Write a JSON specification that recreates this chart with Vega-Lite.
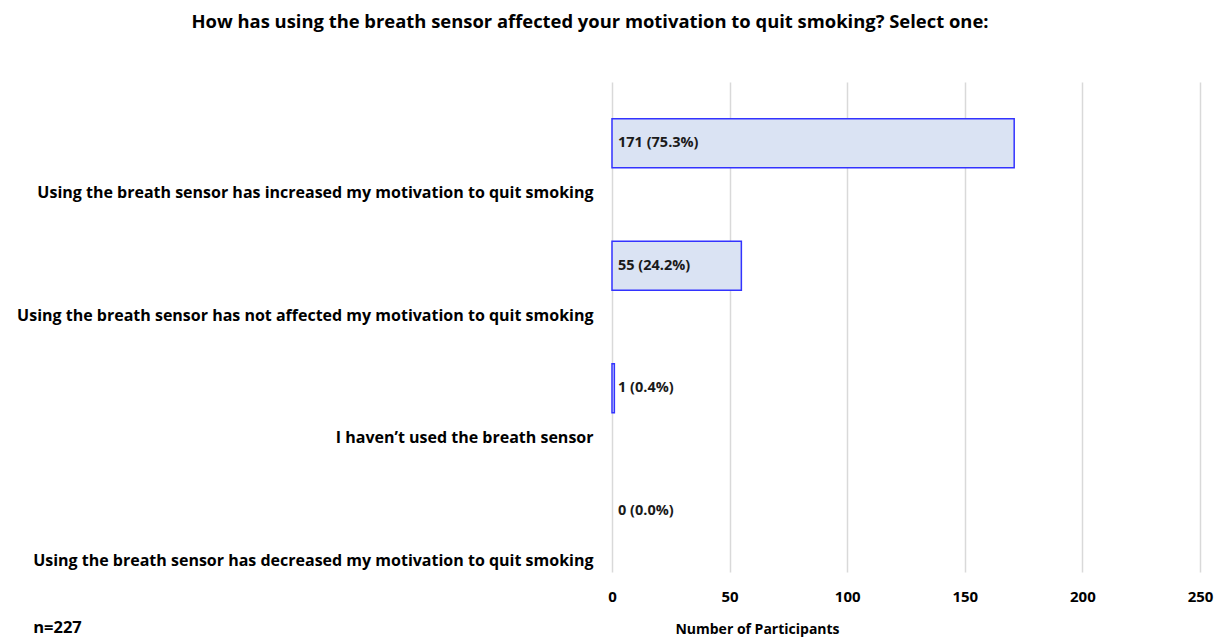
{
  "$schema": "https://vega.github.io/schema/vega-lite/v6.json",
  "width": 588,
  "height": 490,
  "autosize": {"type": "none"},
  "padding": {"left": 612, "top": 82, "right": 16, "bottom": 65},
  "background": "white",
  "config": {"view": {"stroke": null}, "font": "Open Sans"},
  "title": {
    "text": "How has using the breath sensor affected your motivation to quit smoking? Select one:",
    "font": "Open Sans",
    "fontSize": 18.4,
    "fontWeight": "bold",
    "color": "#000000",
    "anchor": "middle",
    "frame": "group",
    "dx": -316,
    "offset": 51
  },
  "data": {
    "values": [
      {"response": "Using the breath sensor has increased my motivation to quit smoking", "count": 171, "label": "171 (75.3%)"},
      {"response": "Using the breath sensor has not affected my motivation to quit smoking", "count": 55, "label": "55 (24.2%)"},
      {"response": "I haven’t used the breath sensor", "count": 1, "label": "1 (0.4%)"},
      {"response": "Using the breath sensor has decreased my motivation to quit smoking", "count": 0, "label": "0 (0.0%)"}
    ]
  },
  "encoding": {
    "y": {
      "field": "response",
      "type": "nominal",
      "sort": null,
      "scale": {"paddingInner": 0.6, "paddingOuter": 0.3},
      "axis": {
        "title": "n=227",
        "titleAngle": 0,
        "titleX": -555,
        "titleY": 545,
        "titleAlign": "center",
        "titleBaseline": "middle",
        "titleFont": "Open Sans",
        "titleFontSize": 16.5,
        "titleFontWeight": "bold",
        "titleColor": "#000000",
        "labelOffset": 50,
        "labelPadding": 19,
        "labelLimit": 0,
        "labelFont": "Open Sans",
        "labelFontSize": 16,
        "labelFontWeight": "bold",
        "labelColor": "#000000",
        "ticks": false,
        "domain": false,
        "grid": false
      }
    },
    "x": {
      "field": "count",
      "type": "quantitative",
      "scale": {"domain": [0, 250], "nice": false},
      "axis": {
        "values": [0, 50, 100, 150, 200, 250],
        "title": "Number of Participants",
        "titleX": 145,
        "titleAlign": "center",
        "titleFont": "Open Sans",
        "titleFontSize": 14,
        "titleFontWeight": "bold",
        "titleColor": "#000000",
        "titlePadding": 18,
        "labelFont": "Open Sans",
        "labelFontSize": 15,
        "labelFontWeight": "bold",
        "labelColor": "#000000",
        "labelPadding": 17,
        "labelFlush": false,
        "ticks": false,
        "domain": false,
        "grid": true,
        "gridColor": "#D9D9D9",
        "gridWidth": 1.5
      }
    }
  },
  "layer": [
    {
      "transform": [{"filter": "datum.count > 0"}],
      "mark": {"type": "bar", "fill": "#DAE3F3", "stroke": "#3333FF", "strokeWidth": 1.5}
    },
    {
      "mark": {"type": "text", "align": "left", "baseline": "middle", "dx": 6, "font": "Open Sans", "fontSize": 14.5, "fontWeight": "bold", "color": "#1a1a1a"},
      "encoding": {
        "x": {"datum": 0, "type": "quantitative"},
        "text": {"field": "label"}
      }
    }
  ]
}
